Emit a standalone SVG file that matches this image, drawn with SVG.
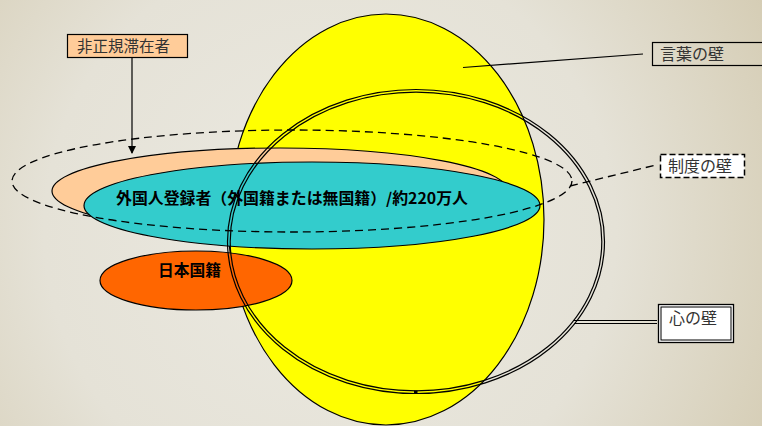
<svg xmlns="http://www.w3.org/2000/svg" width="762" height="426" viewBox="0 0 762 426">
  <defs>
    <radialGradient id="bg" cx="330" cy="230" r="520" gradientUnits="userSpaceOnUse">
      <stop offset="0" stop-color="#ebe9e1"/>
      <stop offset="0.55" stop-color="#e5e2d7"/>
      <stop offset="1" stop-color="#d3cab0"/>
    </radialGradient>
    <marker id="arr" markerWidth="8" markerHeight="10" refX="7" refY="4" orient="auto" markerUnits="userSpaceOnUse">
      <path d="M0,0 L8,4 L0,8 Z" fill="#000"/>
    </marker>
  </defs>
  <style>
    .sh { stroke: #000; stroke-width: 1.2; }
    .ring { fill: none; stroke: #000; stroke-width: 1.2; }
    .lbl { font-family: "Noto Sans CJK JP", "Noto Sans", sans-serif; font-size: 16px; fill: #333333; }
    .big { font-family: "Noto Sans CJK JP", "Liberation Sans", sans-serif; font-size: 15.5px; font-weight: bold; fill: #000; }
    .dash { fill: none; stroke: #000; stroke-width: 1.3; stroke-dasharray: 8 5; }
  </style>
  <rect width="762" height="426" fill="url(#bg)"/>

  <g id="kotoba-wall">
    <ellipse cx="386" cy="219.5" rx="158" ry="205.5" fill="#ffff00" class="sh"/>
  </g>
  <g id="irregular-residents">
    <ellipse cx="280" cy="191" rx="228" ry="43" fill="#ffcc99" class="sh"/>
  </g>
  <g id="foreign-registered">
    <ellipse cx="312" cy="205.5" rx="228" ry="43.5" fill="#33cccc" class="sh"/>
  </g>
  <g id="japanese-nationality">
    <ellipse cx="196" cy="280.5" rx="96" ry="29.5" fill="#ff6600" class="sh"/>
  </g>
  <g id="seido-wall">
    <ellipse cx="292" cy="181" rx="280" ry="51" class="dash"/>
  </g>
  <g id="kokoro-wall">
    <ellipse cx="416" cy="241.5" rx="188.5" ry="152" class="ring"/>
    <ellipse cx="416" cy="241.5" rx="185.8" ry="149.3" class="ring"/>
    <rect x="414" y="390.5" width="3.5" height="3" fill="#000"/>
  </g>

  <g id="connectors">
    <line x1="132" y1="58" x2="132" y2="153" stroke="#000" stroke-width="1.2" marker-end="url(#arr)"/>
    <line x1="463" y1="67.5" x2="643" y2="54" stroke="#000" stroke-width="1.2"/>
    <line x1="570" y1="186" x2="656" y2="165" class="dash"/>
    <line x1="574" y1="320.5" x2="657" y2="320.5" stroke="#000" stroke-width="1.2"/>
    <line x1="574" y1="323.5" x2="657" y2="323.5" stroke="#000" stroke-width="1.2"/>
  </g>

  <g id="label-irregular">
    <rect x="67.5" y="34.5" width="120" height="23" fill="#ffcc99" stroke="#000" stroke-width="1.2"/>
    <text x="77" y="52" class="lbl" style="font-size:15.5px">非正規滞在者</text>
  </g>
  <g id="label-kotoba">
    <rect x="652.5" y="42.5" width="115" height="23" fill="none" stroke="#000" stroke-width="1.2"/>
    <text x="660" y="60" class="lbl">言葉の壁</text>
  </g>
  <g id="label-seido">
    <rect x="660.5" y="154.5" width="84" height="23" fill="#fff" stroke="#000" stroke-width="1.5" stroke-dasharray="6 3"/>
    <text x="668" y="172" class="lbl">制度の壁</text>
  </g>
  <g id="label-kokoro">
    <rect x="658.5" y="304.5" width="75" height="38" fill="#fff" stroke="#000" stroke-width="1.3"/>
    <rect x="661" y="307" width="70" height="33" fill="none" stroke="#000" stroke-width="1"/>
    <text x="669" y="324" class="lbl">心の壁</text>
  </g>

  <g id="texts">
    <text x="116" y="204" class="big" textLength="352" lengthAdjust="spacingAndGlyphs">外国人登録者（外国籍または無国籍）/約220万人</text>
    <text x="158" y="276" class="big" textLength="63" lengthAdjust="spacingAndGlyphs">日本国籍</text>
  </g>
</svg>
